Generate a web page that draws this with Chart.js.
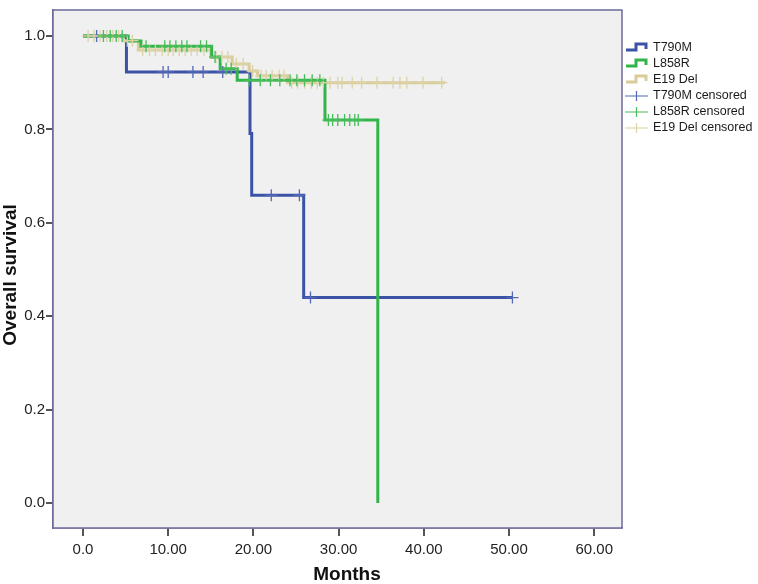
<!DOCTYPE html>
<html>
<head>
<meta charset="utf-8">
<script src="https://cdn.jsdelivr.net/npm/chart.js@4/dist/chart.umd.min.js"></script>
<style>
  html, body { margin: 0; padding: 0; background: #ffffff; }
  #wrap { width: 758px; height: 584px; }
</style>
</head>
<body>
<div id="wrap"><canvas id="c" width="758" height="584"></canvas></div>
<script>
// ---- data ----
const xTicks = [0, 10, 20, 30, 40, 50, 60];
const xTickLabels = ['0.0', '10.00', '20.00', '30.00', '40.00', '50.00', '60.00'];
const yTicks = [0, 0.2, 0.4, 0.6, 0.8, 1.0];
const yTickLabels = ['0.0', '0.2', '0.4', '0.6', '0.8', '1.0'];
const xTitle = 'Months';
const yTitle = 'Overall survival';

const seriesNames = ['T790M', 'L858R', 'E19 Del'];

// step curves: time at which survival becomes the value
const t790mTimes = [0, 5.1, 19.6, 19.8, 25.9, 50.4];
const t790mSurv  = [1.0, 0.923, 0.791, 0.659, 0.44, 0.44];
const l858rTimes = [0, 5.3, 6.8, 15.1, 16.1, 18.1, 28.4, 34.6];
const l858rSurv  = [1.0, 0.989, 0.978, 0.955, 0.93, 0.905, 0.82, 0.0];
const e19Times   = [0, 4.7, 6.5, 15.0, 17.5, 19.5, 20.5, 24.0, 42.5];
const e19Surv    = [1.0, 0.99, 0.97, 0.955, 0.94, 0.925, 0.915, 0.90, 0.90];

// censored observations (time, survival level)
const t790mCensT = [1.6, 9.4, 10.0, 12.9, 14.1, 16.4, 22.1, 25.4, 26.7, 50.4];
const t790mCensS = [1.0, 0.923, 0.923, 0.923, 0.923, 0.923, 0.659, 0.659, 0.44, 0.44];
const l858rCensT = [2.4, 3.2, 3.9, 4.6, 7.4, 9.6, 10.2, 10.9, 11.6, 12.2, 13.8, 14.5, 15.5, 16.8, 17.4,
                    19.5, 20.8, 22.0, 23.1, 24.3, 25.1, 26.0, 26.9, 27.8,
                    28.8, 29.3, 29.9, 30.7, 31.3, 31.9, 32.3];
const l858rCensS = [1.0, 1.0, 1.0, 1.0, 0.978, 0.978, 0.978, 0.978, 0.978, 0.978, 0.978, 0.978, 0.955, 0.93, 0.93,
                    0.905, 0.905, 0.905, 0.905, 0.905, 0.905, 0.905, 0.905, 0.905,
                    0.82, 0.82, 0.82, 0.82, 0.82, 0.82, 0.82];
const e19CensT = [0.6, 1.3, 2.0, 2.8, 3.5, 4.2, 5.2, 5.8,
                  7.0, 7.8, 8.5, 9.3, 10.0, 10.6, 11.3, 12.0, 12.7, 13.4, 14.2,
                  15.6, 16.3, 17.0, 18.0, 18.8, 19.9, 20.9, 21.5, 22.2, 23.0, 23.6,
                  24.5, 25.2, 26.0, 26.8, 27.5, 28.2, 29.0, 29.9, 30.4, 31.6, 32.7,
                  34.5, 36.4, 37.2, 38.0, 39.9, 42.1];
const e19CensS = [1.0, 1.0, 1.0, 1.0, 1.0, 1.0, 0.99, 0.99,
                  0.97, 0.97, 0.97, 0.97, 0.97, 0.97, 0.97, 0.97, 0.97, 0.97, 0.97,
                  0.955, 0.955, 0.955, 0.94, 0.94, 0.925, 0.915, 0.915, 0.915, 0.915, 0.915,
                  0.90, 0.90, 0.90, 0.90, 0.90, 0.90, 0.90, 0.90, 0.90, 0.90, 0.90,
                  0.90, 0.90, 0.90, 0.90, 0.90, 0.90];

// ---- styles ----
const FONT = '"Liberation Sans", Arial, sans-serif';
const lineColors = ['#3b53a6', '#33b44a', '#d8cc9b'];
const censColors = ['#5368b6', '#45bd58', '#ddd2a6'];

const pts = (xs, ys) => xs.map((x, i) => ({ x: x, y: ys[i] }));

function stepIcon(color) {
  const c = document.createElement('canvas');
  c.width = 24; c.height = 12;
  const g = c.getContext('2d');
  g.strokeStyle = color; g.lineWidth = 3; g.lineJoin = 'miter';
  g.beginPath();
  g.moveTo(1, 9); g.lineTo(11, 9); g.lineTo(11, 3); g.lineTo(21, 3); g.lineTo(21, 8);
  g.stroke();
  return c;
}

const legendItems = [
  { text: 'T790M', type: 'step', color: lineColors[0] },
  { text: 'L858R', type: 'step', color: lineColors[1] },
  { text: 'E19 Del', type: 'step', color: lineColors[2] },
  { text: 'T790M censored', type: 'cens', color: censColors[0] },
  { text: 'L858R censored', type: 'cens', color: censColors[1] },
  { text: 'E19 Del censored', type: 'cens', color: censColors[2] }
];

const frame = {
  id: 'frame',
  beforeDatasetsDraw(chart) {
    const a = chart.chartArea, ctx = chart.ctx;
    ctx.save();
    ctx.fillStyle = '#f0f0f0';
    ctx.fillRect(a.left, a.top, a.right - a.left, a.bottom - a.top);
    ctx.restore();
  },
  afterDraw(chart) {
    const a = chart.chartArea, ctx = chart.ctx;
    ctx.save();
    ctx.strokeStyle = '#6b6b9c';
    ctx.lineWidth = 1.5;
    ctx.strokeRect(a.left, a.top, a.right - a.left, a.bottom - a.top);

    // axis titles
    ctx.fillStyle = '#111';
    ctx.font = 'bold 19px ' + FONT;
    ctx.textAlign = 'center';
    ctx.textBaseline = 'middle';
    ctx.fillText(xTitle, 347, 575);
    ctx.save();
    ctx.translate(11, 275);
    ctx.rotate(-Math.PI / 2);
    ctx.fillText(yTitle, 0, 0);
    ctx.restore();

    // legend
    ctx.font = '12.5px ' + FONT;
    ctx.textBaseline = 'middle';
    ctx.textAlign = 'left';
    legendItems.forEach((it, i) => {
      const y = 48 + i * 16;
      if (it.type === 'step') {
        ctx.drawImage(stepIcon(it.color), 625, y - 7);
      } else {
        ctx.strokeStyle = it.color; ctx.lineWidth = 1.2;
        ctx.beginPath();
        ctx.moveTo(625, y); ctx.lineTo(648, y);
        ctx.moveTo(636.5, y - 5); ctx.lineTo(636.5, y + 5);
        ctx.stroke();
      }
      ctx.fillStyle = '#1a1a1a';
      ctx.fillText(it.text, 653, y);
    });
    ctx.restore();
  }
};

function lineDs(label, data, color, order) {
  return { label, data, borderColor: color, backgroundColor: color, borderWidth: 3,
    stepped: 'before', pointRadius: 0, pointHoverRadius: 0, fill: false, order, tension: 0,
    borderJoinStyle: 'miter' };
}
function censDs(label, data, color, order) {
  return { label, data, borderColor: color, backgroundColor: color, showLine: false,
    pointStyle: 'cross', pointRadius: 6, pointBorderWidth: 1.3, pointHoverRadius: 6, order };
}

new Chart(document.getElementById('c'), {
  type: 'line',
  data: {
    datasets: [
      censDs('L858R censored', pts(l858rCensT, l858rCensS), censColors[1], 1),
      censDs('E19 Del censored', pts(e19CensT, e19CensS), censColors[2], 2),
      censDs('T790M censored', pts(t790mCensT, t790mCensS), censColors[0], 3),
      lineDs(seriesNames[1], pts(l858rTimes, l858rSurv), lineColors[1], 4),
      lineDs(seriesNames[2], pts(e19Times, e19Surv), lineColors[2], 5),
      lineDs(seriesNames[0], pts(t790mTimes, t790mSurv), lineColors[0], 6)
    ]
  },
  options: {
    responsive: false,
    animation: false,
    events: [],
    layout: { padding: { top: 9, right: 136, left: 0, bottom: 0 } },
    plugins: { legend: { display: false }, tooltip: { enabled: false } },
    scales: {
      x: {
        type: 'linear',
        min: -3.52, max: 63.26,
        afterBuildTicks: s => { s.ticks = xTicks.map(v => ({ value: v })); },
        afterFit: s => { s.height = 56; },
        ticks: {
          callback: (v, i) => xTickLabels[i],
          color: '#222', padding: 5, maxRotation: 0, autoSkip: false,
          font: { family: FONT, size: 15 }
        },
        grid: { drawOnChartArea: false, drawTicks: true, tickLength: 8, color: '#555', lineWidth: 2 },
        border: { display: true, color: '#6b6b9c', width: 1.5 },
        title: { display: false }
      },
      y: {
        type: 'linear',
        min: -0.0534, max: 1.0556,
        afterBuildTicks: s => { s.ticks = yTicks.map(v => ({ value: v })); },
        afterFit: s => { s.width = 53; },
        ticks: {
          callback: (v, i) => yTickLabels[i],
          color: '#222', padding: 1, autoSkip: false,
          font: { family: FONT, size: 15 }
        },
        grid: { drawOnChartArea: false, drawTicks: true, tickLength: 7, color: '#555', lineWidth: 2 },
        border: { display: true, color: '#6b6b9c', width: 1.5 },
        title: { display: false }
      }
    }
  },
  plugins: [frame]
});
</script>
</body>
</html>
